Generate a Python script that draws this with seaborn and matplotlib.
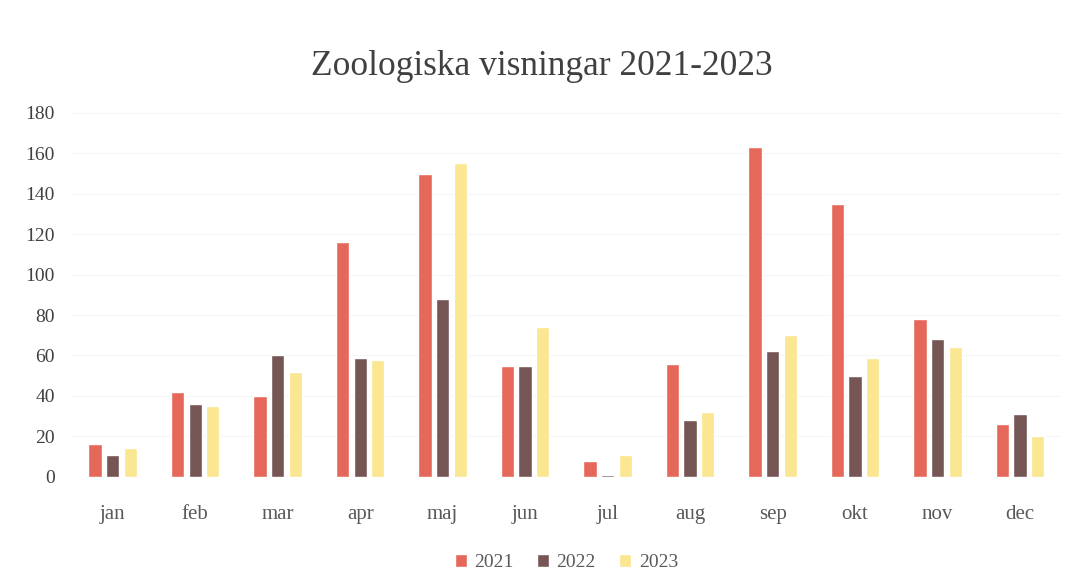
import numpy as np
import pandas as pd
import seaborn as sns
from matplotlib import pyplot as plt

# values
months = ["jan", "feb", "mar", "apr", "maj", "jun", "jul", "aug", "sep", "okt", "nov", "dec"]
v2021 = [16, 42, 40, 116, 150, 55, 8, 56, 163, 135, 78, 26]
v2022 = [11, 36, 60, 59, 88, 55, 1, 28, 62, 50, 68, 31]
v2023 = [14, 35, 52, 58, 155, 74, 11, 32, 70, 59, 64, 20]
years = ["2021", "2022", "2023"]
colors = ["#E5685A", "#765655", "#FBE691"]

df = pd.DataFrame({"month": months * 3,
                   "year": np.repeat(years, len(months)),
                   "value": v2021 + v2022 + v2023})

sns.set_style("white")
plt.rcParams['font.family'] = ['Liberation Serif', 'DejaVu Serif']

fig = plt.figure(figsize=(10.83, 5.85), dpi=100)
ax = fig.add_axes([0.066, 0.185, 0.914, 0.622])

sns.barplot(data=df, x="month", y="value", hue="year", palette=colors,
            width=0.64, gap=0.24, ax=ax, saturation=1, legend=True)

ax.set_ylim(0, 180)
ax.set_yticks(range(0, 181, 20))
ax.yaxis.grid(True, color="#f6f6f6", lw=0.8)
ax.set_axisbelow(True)
sns.despine(ax=ax, left=True, bottom=True)
ax.set_xlabel("")
ax.set_ylabel("")
ax.tick_params(axis="x", labelsize=15, colors="#595959", pad=20, length=0)
ax.tick_params(axis="y", labelsize=14, colors="#404040", pad=12, length=0)

fig.suptitle("Zoologiska visningar 2021-2023", y=0.915, fontsize=25.5, color="#404040")

ax.legend(loc="upper center", bbox_to_anchor=(0.5, -0.165), ncol=3, frameon=False,
          fontsize=14, handlelength=0.6, handleheight=0.6, columnspacing=1.2,
          handletextpad=0.4, labelcolor="#595959")

fig.savefig("out.png", dpi=100)
